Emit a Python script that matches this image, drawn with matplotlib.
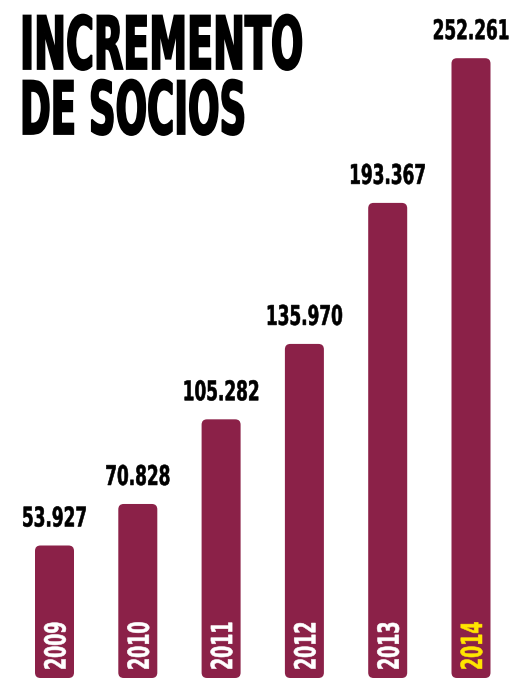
import matplotlib
matplotlib.use('Agg')
import matplotlib.pyplot as plt
import matplotlib.patheffects as pe
from matplotlib.patches import FancyBboxPatch
from matplotlib.transforms import Affine2D, ScaledTranslation

# datos
anios = ['2009', '2010', '2011', '2012', '2013', '2014']
socios = [53927, 70828, 105282, 135970, 193367, 252261]
etiquetas = ['53.927', '70.828', '105.282', '135.970', '193.367', '252.261']
color_anio = ['white', 'white', 'white', 'white', 'white', '#FFE500']
titulo = ['INCREMENTO', 'DE SOCIOS']

GRANATE = '#8B2148'
W, H = 513, 684
PASO = 83.3      # px entre barras
ESCALA = 407.0   # socios por px


def squeeze_affine(text, sx):
    x0, y0 = text.get_transform().transform(text.get_position())
    rot = text.get_rotation()
    return (Affine2D().translate(-x0, -y0).rotate_deg(-rot)
            .scale(sx, 1).rotate_deg(rot).translate(x0, y0))


class Squeeze(pe.AbstractPathEffect):
    '''Estrecha el texto en su propia direccion (tipografia condensada).'''

    def __init__(self, text, sx, lw=0.0):
        super().__init__()
        self.text = text
        self.sx = sx
        self.lw = lw

    def draw_path(self, renderer, gc, tpath, affine, rgbFace=None):
        sq = squeeze_affine(self.text, self.sx)
        gc0 = renderer.new_gc()
        gc0.copy_properties(gc)
        gc0.set_linewidth(self.lw)
        gc0.set_foreground(rgbFace)
        gc0.set_joinstyle('miter')
        renderer.draw_path(gc0, tpath, affine + sq, rgbFace)
        gc0.restore()


def condensar(t, sx, lw):
    t.set_path_effects([Squeeze(t, sx, lw)])
    original = t.get_window_extent

    def extent(renderer=None, dpi=None):
        return original(renderer, dpi).transformed(squeeze_affine(t, sx))
    t.get_window_extent = extent


def offset(dx, dy):
    return ScaledTranslation(dx / 100, dy / 100, fig.dpi_scale_trans)


fig = plt.figure(figsize=(W / 100, H / 100), dpi=100, facecolor='white')
ax = fig.add_axes([0, 6 / H, 1, 678 / H])
ax.set_xlim(-54.5 / PASO, (W - 54.5) / PASO)
ax.set_ylim(0, 678 * ESCALA)
ax.axis('off')

ancho = 39 / PASO
for i, (v, lab, anio, col) in enumerate(zip(socios, etiquetas, anios, color_anio)):
    ax.add_patch(FancyBboxPatch((i - ancho / 2, 0), ancho, v,
                                boxstyle='round,pad=0,rounding_size=0.065',
                                mutation_aspect=ESCALA * PASO,
                                fc=GRANATE, ec='none'))
    t = ax.text(i, v, lab, ha='center', va='baseline', fontsize=19.6,
                fontweight='bold', family='DejaVu Sans', color='black',
                transform=ax.transData + offset(0, 19))
    condensar(t, 0.62, 0.4)
    t = ax.text(i, 0, anio, ha='left', va='baseline', rotation=90,
                rotation_mode='anchor', fontsize=20.9, fontweight='bold',
                family='DejaVu Sans', color=col,
                transform=ax.transData + offset(11, 8))
    condensar(t, 0.6, 0.4)

for texto, base, sx in zip(titulo, [69, 134], [0.519, 0.505]):
    t = fig.text(20 / W, 1 - base / H, texto, ha='left', va='baseline',
                 fontsize=52.8, fontweight='bold', family='DejaVu Sans',
                 color='black')
    condensar(t, sx, 1.3)

fig.savefig('out.png', dpi=100, facecolor='white')
